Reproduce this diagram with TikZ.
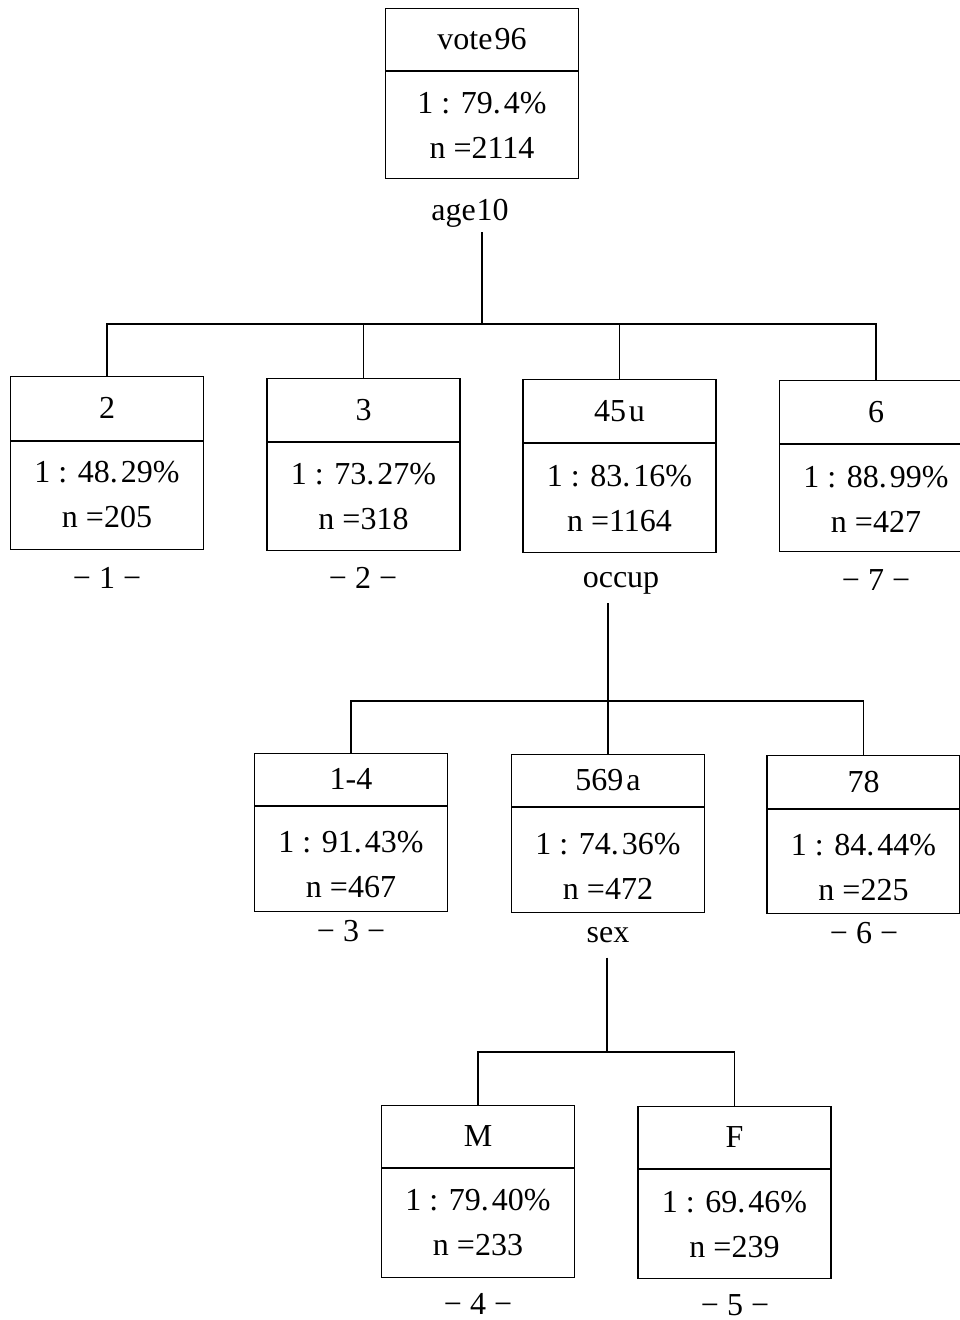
\documentclass[tikz,border=0pt]{standalone}
\usepackage{fontspec}
\setmainfont{Liberation Serif}
\tikzset{
  tbox/.style={draw, line width=1.3pt, minimum width=193pt, inner sep=0pt},
  txt/.style={anchor=base, inner sep=0pt, font=\fontsize{32}{36}\selectfont},
  wire/.style={line width=1.3pt},
}
% name, cx, top, divider, bottom, header, pct, n, mid of lower part
\newcommand\treebox[9]{%
  \node[tbox, anchor=north, minimum height={(#5-#3)*1pt}] (#1) at (#2,#3) {};
  \draw[wire] ({#2-96.5},#4) -- ({#2+96.5},#4);
  \node[txt] (#1h) at (#2,{(#3+#4)/2+10}) {#6};
  \node[txt] (#1p) at (#2,{#9-22.5+10}) {#7};
  \node[txt] (#1n) at (#2,{#9+22.5+10}) {#8};
}
\begin{document}
\begin{tikzpicture}[x=1pt,y=-1pt]
\useasboundingbox (0,0) rectangle (960,1320);
\clip (0,0) rectangle (960,1320);
\fill[white] (0,0) rectangle (960,1320);

% root
\treebox{root}{482}{8}{71}{178}{vote\kern2pt96}{1 : 79.\kern3pt4\%}{n =2114}{125.5}
\node[txt] (lab0) at (470,220) {age\kern1pt10};

% level 1
\treebox{b1}{107}{376}{441}{549}{2}{1 : 48.\kern3pt29\%}{n =205}{495}
\treebox{b2}{363.5}{378}{442}{550}{3}{1 : 73.\kern3pt27\%}{n =318}{497}
\treebox{b3}{619.5}{379}{443}{552}{45\kern3pt u}{1 : 83.\kern3pt16\%}{n =1164}{498.5}
\treebox{b4}{876}{380}{444}{551}{6}{1 : 88.\kern3pt99\%}{n =427}{499.5}
\node[txt] (lab1) at (107,588) {− 1 −};
\node[txt] (lab2) at (363,588) {− 2 −};
\node[txt] (lab3) at (621,587) {occup};
\node[txt] (lab4) at (876,590) {− 7 −};

% level 2
\treebox{b5}{351}{753}{806}{911}{1-4}{1 : 91.\kern3pt43\%}{n =467}{865}
\treebox{b6}{608}{754}{807}{912}{569\kern3pt a}{1 : 74.\kern3pt36\%}{n =472}{866.5}
\treebox{b7}{863.5}{755}{809}{913}{78}{1 : 84.\kern3pt44\%}{n =225}{867.5}
\node[txt] (lab5) at (351,941) {− 3 −};
\node[txt] (lab6) at (608,942) {sex};
\node[txt] (lab7) at (864,943) {− 6 −};

% level 3
\treebox{b8}{478}{1105}{1168}{1277}{M}{1 : 79.\kern3pt40\%}{n =233}{1223}
\treebox{b9}{734.5}{1106}{1169}{1278}{F}{1 : 69.\kern3pt46\%}{n =239}{1225}
\node[txt] (lab8) at (478,1314) {− 4 −};
\node[txt] (lab9) at (735,1315) {− 5 −};

% connectors
\coordinate (bus1) at (482,324);
\coordinate (bus2) at (608,701);
\coordinate (bus3) at (607,1052);

\draw[wire, shorten <=5pt] (lab0.south -| bus1) -- (bus1);
\draw[wire] (b1.north) |- (bus1) -| (b4.north);
\draw[wire] (b2.north) -- (b2.north |- bus1);
\draw[wire] (b3.north) -- (b3.north |- bus1);

\draw[wire, shorten <=9pt] (lab3.south -| bus2) -- (bus2);
\draw[wire] (b5.north) |- (bus2) -| (b7.north);
\draw[wire] (b6.north) -- (b6.north |- bus2);

\draw[wire, shorten <=15pt] (lab6.south -| bus3) -- (bus3);
\draw[wire] (b8.north) |- (bus3) -| (b9.north);
\end{tikzpicture}
\end{document}
